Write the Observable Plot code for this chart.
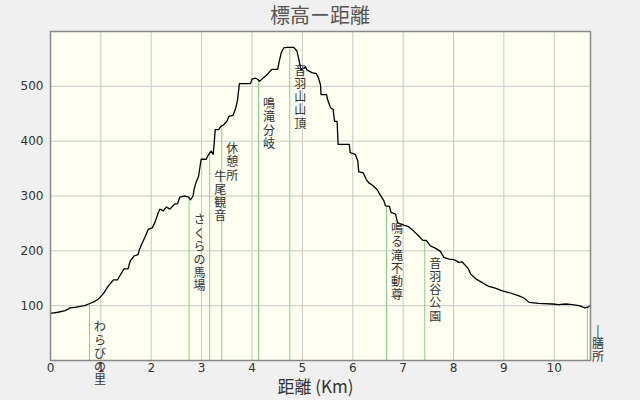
<!DOCTYPE html>
<html>
<head>
<meta charset="utf-8">
<script src="https://cdn.jsdelivr.net/npm/d3@7"></script>
<script src="https://cdn.jsdelivr.net/npm/@observablehq/plot@0.6"></script>
<style>
  html, body { margin: 0; padding: 0; background: #f0f0f0; }
  #title { height: 28px; line-height: 30px; text-align: center; font-family: "Noto Sans CJK JP", sans-serif; font-size: 20px; color: #555; width: 640px; }
  #chart svg { display: block; }
</style>
</head>
<body>
<div id="title">標高ー距離</div>
<div id="chart"></div>
<script>
const titleText = "標高ー距離";
const xLabel = "距離 (Km)";
const xTicks = [0, 1, 2, 3, 4, 5, 6, 7, 8, 9, 10];
const yTicks = [100, 200, 300, 400, 500];

const profileKm = [0.00,0.15,0.29,0.39,0.48,0.68,0.78,0.88,0.95,1.05,1.15,1.25,1.33,1.38,1.46,1.54,1.58,1.66,1.74,1.76,1.81,1.87,1.94,2.02,2.07,2.14,2.17,2.24,2.30,2.37,2.46,2.52,2.57,2.67,2.74,2.78,2.83,2.85,2.89,2.94,2.99,3.09,3.14,3.19,3.23,3.25,3.27,3.34,3.38,3.44,3.50,3.54,3.62,3.67,3.71,3.75,3.97,4.00,4.07,4.11,4.15,4.22,4.30,4.35,4.40,4.51,4.54,4.58,4.63,4.70,4.83,4.89,4.93,4.97,5.03,5.06,5.09,5.19,5.28,5.32,5.36,5.37,5.48,5.50,5.56,5.61,5.64,5.69,5.71,5.93,5.95,6.05,6.10,6.12,6.21,6.27,6.32,6.40,6.48,6.55,6.62,6.65,6.73,6.76,6.85,6.89,7.01,7.11,7.21,7.31,7.39,7.46,7.54,7.64,7.74,7.81,7.91,8.01,8.11,8.17,8.24,8.29,8.34,8.44,8.57,8.70,8.83,8.97,9.10,9.30,9.40,9.50,9.69,9.96,10.09,10.23,10.36,10.49,10.61,10.68,10.72];
const profileElev = [86,88,91,96,97,100,104,108,112,122,136,147,147,155,167,167,181,191,193,201,212,224,239,242,251,270,276,273,280,276,285,286,298,300,298,293,300,312,325,336,367,367,376,382,376,397,421,421,427,430,436,445,447,458,473,505,505,513,515,513,509,515,521,527,531,531,545,561,570,571,571,565,549,530,533,536,530,525,523,515,503,485,485,476,461,458,436,436,394,394,379,376,364,344,342,330,324,319,312,301,291,282,281,270,267,251,247,244,236,227,219,219,209,205,199,188,185,184,179,180,173,168,158,149,142,135,132,127,124,118,114,106,104,103,102,103,102,100,96,98,100];

const markerNames = ["わらびの里", "さくらの馬場", "牛尾観音", "休憩所", "鳴滝分岐", "音羽山山頂", "鳴る滝不動尊", "音羽谷公園", "|膳所"];
const markerKm = [0.775, 2.75, 3.16, 3.40, 4.13, 4.75, 6.67, 7.43, 10.66];
const markerElev = [103, 298, 378, 428, 510, 571, 282, 219, 97];

const profile = profileKm.map((k, i) => ({km: k, elev: profileElev[i]}));
const markers = markerNames.map((n, i) => ({name: n, km: markerKm[i], elev: markerElev[i]}));

document.getElementById("title").textContent = titleText;

const chart = Plot.plot({
  width: 640,
  height: 372,
  marginTop: 3,
  marginBottom: 40,
  marginLeft: 50,
  marginRight: 50,
  style: {background: "transparent", fontFamily: "'DejaVu Sans', sans-serif", fontSize: "12px", color: "#333"},
  x: {domain: [0, 10.72]},
  y: {domain: [0, 600]},
  marks: [
    Plot.frame({fill: "#fefff0", stroke: null}),
    Plot.gridX(xTicks.filter(d => d > 0), {stroke: "#c8c8c8", strokeOpacity: 1, strokeWidth: 1}),
    Plot.gridY(yTicks, {stroke: "#c8c8c8", strokeOpacity: 1, strokeWidth: 1}),
    Plot.ruleX(markers, {x: "km", y1: 0, y2: "elev", stroke: "#86d086", strokeWidth: 1}),
    Plot.line(profile, {x: "km", y: "elev", stroke: "black", strokeWidth: 1.3}),
    Plot.text(markers, {x: "km", y: "elev", text: d => [...d.name].join("\n"), dx: 10.5, dy: 18, lineAnchor: "top", textAnchor: "middle", fontSize: 12, lineHeight: 1.1, fill: "#333", fontFamily: "'Noto Sans CJK JP', sans-serif"}),
    Plot.axisX(xTicks, {tickSize: 0, tickPadding: 3, label: null, fill: "#333", fontSize: 12}),
    Plot.axisY(yTicks, {tickSize: 0, tickPadding: 7, label: null, fill: "#333", fontSize: 12}),
    Plot.text([xLabel], {frameAnchor: "bottom", dy: 32, dx: -5, fontSize: 17, fill: "#333", fontFamily: "'Noto Sans CJK JP', sans-serif"}),
    Plot.frame({stroke: "#888", strokeWidth: 1.5})
  ]
});
document.getElementById("chart").appendChild(chart);
</script>
</body>
</html>
